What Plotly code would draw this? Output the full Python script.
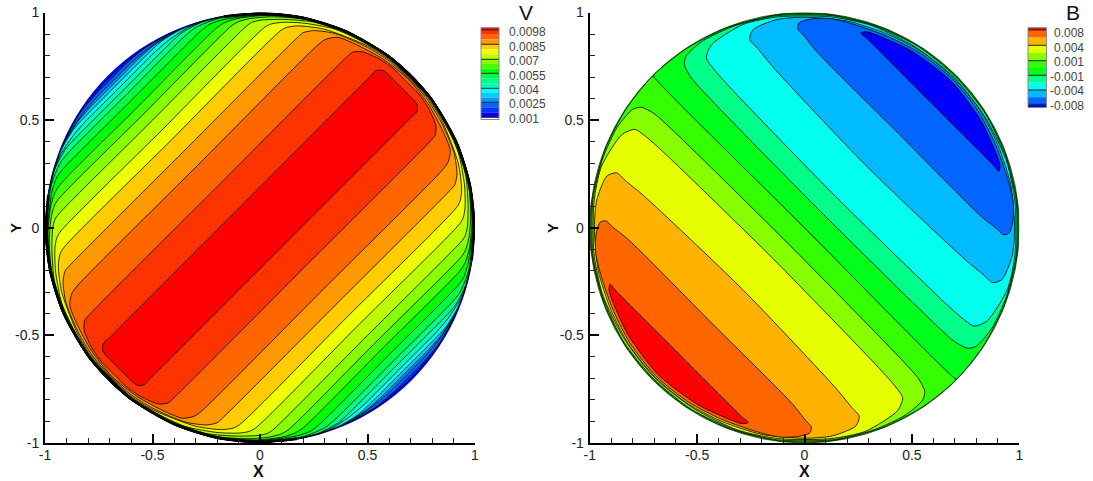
import plotly.graph_objects as go

W, H = 1093, 481

TICK_VALS = [-1, -0.5, 0, 0.5, 1]
TICK_TEXT = ["-1", "-0.5", "0", "0.5", "1"]
MINOR_VALS = [-0.9, -0.8, -0.7, -0.6, -0.4, -0.3, -0.2, -0.1, 0.1, 0.2, 0.3, 0.4, 0.6, 0.7, 0.8, 0.9]

# V panel: one quarter of every contour, from the
# anti-diagonal crossing to the diagonal crossing (outermost contour first).
V_Q18 = [(-.70, .70), (-.655, .742), (-.555, .825), (-.44, .892), (-.26, .962), (0, .999), (.2, .979), (.4, .916), (.6, .8), (.707, .707)]
V_Q17 = [(-.6925, .6925), (-.63, .755), (-.535, .835), (-.42, .90), (-.24, .965), (0, .998), (.2, .979), (.4, .916), (.6, .8), (.707, .707)]
V_Q16 = [(-.6825, .6825), (-.60, .765), (-.51, .84), (-.40, .908), (-.22, .97), (0, .998), (.2, .978), (.4, .915), (.6, .799), (.706, .706)]
V_Q15 = [(-.675, .675), (-.565, .785), (-.49, .85), (-.385, .915), (-.21, .973), (0, .997), (.2, .978), (.4, .915), (.6, .798), (.705, .705)]
V_Q14 = [(-.665, .665), (-.53, .80), (-.46, .865), (-.36, .925), (-.19, .978), (0, .996), (.2, .977), (.4, .914), (.6, .798), (.705, .705)]
V_Q13 = [(-.6525, .6525), (-.485, .82), (-.42, .875), (-.325, .935), (-.155, .985), (0, .995), (.2, .977), (.4, .914), (.6, .797), (.704, .704)]
V_Q12 = [(-.6375, .6375), (-.415, .86), (-.365, .905), (-.27, .955), (-.12, .987), (.02, .993), (.2, .976), (.4, .913), (.6, .797), (.704, .704)]
V_Q11 = [(-.62, .62), (-.35, .89), (-.3, .93), (-.2, .97), (-.08, .986), (.04, .991), (.2, .975), (.4, .913), (.6, .796), (.703, .703)]
V_Q10 = [(-.595, .595), (-.28, .91), (-.235, .945), (-.17, .967), (-.05, .984), (.06, .989), (.2, .974), (.4, .912), (.6, .796), (.703, .703)]
V_Q09 = [(-.565, .565), (-.2, .93), (-.16, .955), (-.1, .973), (0, .985), (.08, .986), (.2, .973), (.4, .911), (.6, .795), (.702, .702)]
V_Q08 = [(-.535, .535), (-.13, .94), (-.1, .957), (-.05, .971), (.05, .98), (.2, .97), (.4, .91), (.6, .794), (.701, .701)]
V_Q07 = [(-.5, .5), (-.065, .935), (-.04, .953), (0, .964), (.1, .968), (.25, .956), (.4, .908), (.55, .828), (.700, .700)]
V_Q06 = [(-.455, .455), (.02, .93), (.05, .946), (.1, .954), (.2, .951), (.35, .922), (.5, .852), (.6, .787), (.698, .698)]
V_Q05 = [(-.41, .41), (.095, .915), (.125, .931), (.18, .938), (.3, .922), (.5, .845), (.6, .782), (.696, .696)]
V_Q04 = [(-.355, .355), (.17, .88), (.2, .906), (.25, .916), (.35, .902), (.5, .838), (.6, .775), (.693, .693)]
V_Q03 = [(-.29, .29), (.27, .85), (.305, .875), (.36, .885), (.45, .85), (.57, .785), (.69, .69)]
V_Q02 = [(-.195, .195), (.40, .79), (.43, .815), (.475, .818), (.558, .782), (.625, .735), (.68, .68)]
V_Q01 = [(-.095, .095), (.51, .70), (.54, .73), (.574, .73), (.643, .666), (.655, .655)]
V_QUARTERS = [V_Q18, V_Q17, V_Q16, V_Q15, V_Q14, V_Q13, V_Q12, V_Q11, V_Q10, V_Q09,
              V_Q08, V_Q07, V_Q06, V_Q05, V_Q04, V_Q03, V_Q02, V_Q01]
V_BASE = "#0000FF"
V_COLORS = ["#0033FF", "#0066FF", "#0099FF", "#00CCFF", "#00FFEE", "#00FFBB", "#00FF88", "#00FF44",
            "#00FF00", "#44FF00", "#88FF00", "#BBFF00", "#EEFF00", "#FFCC00", "#FF9900", "#FF6600",
            "#FF3300", "#FF0000"]

# Contours of the V panel that merge into one dark rim along the upper right
# and (mirrored through the centre) the lower left.
V_RIM_X = [-.17, -.08, 0, .2, .4, .6, .7, .794, .909, .973, .993, .985]
V_RIM_Y = [.981, .989, .993, .973, .909, .794, .7, .6, .4, .2, 0, -.15]

# B panel: half of each contour of the lower-left lobe, from the diagonal
# crossing round the corner and along the rim to the diagonal at the rim.
B_H0 = [(0, 0), (-.70, .70), (-.708, .702), (-.83, .553), (-.93, .36), (-.99, .12), (-.99, -.12), (-.93, -.36), (-.83, -.553), (-.705, -.705)]
B_H1 = [(-.075, -.075), (-.60, .44), (-.70, .53), (-.76, .56), (-.80, .55), (-.87, .47), (-.94, .32), (-.985, .13), (-.985, -.13), (-.94, -.32), (-.845, -.525), (-.702, -.702)]
B_H2 = [(-.145, -.145), (-.65, .345), (-.74, .425), (-.79, .457), (-.85, .433), (-.945, .285), (-.98, .12), (-.98, -.12), (-.94, -.31), (-.84, -.515), (-.697, -.697)]
B_H3 = [(-.2875, -.2875), (-.75, .15), (-.835, .22), (-.875, .255), (-.92, .24), (-.967, .13), (-.978, 0), (-.96, -.2), (-.90, -.385), (-.82, -.54), (-.695, -.695)]
B_H4 = [(-.4375, -.4375), (-.82, -.055), (-.895, .005), (-.925, .032), (-.952, .025), (-.97, -.03), (-.972, -.12), (-.945, -.23), (-.89, -.385), (-.81, -.54), (-.69, -.69)]
B_H5 = [(-.585, -.585), (-.88, -.29), (-.905, -.262), (-.91, -.29), (-.89, -.35), (-.82, -.50), (-.682, -.682)]
B_HALVES = [B_H0, B_H1, B_H2, B_H3, B_H4, B_H5]
B_POS_COLORS = ["#33FF00", "#88FF00", "#E6FF00", "#FFB300", "#FF6600", "#FF0000"]
B_NEG_COLORS = ["#00FF1A", "#00FF88", "#00FFEE", "#00BBFF", "#0066FF", "#0000FF"]

V_LABELS = ["0.0098", "0.0085", "0.007", "0.0055", "0.004", "0.0025", "0.001"]
B_LABELS = ["0.008", "0.004", "0.001", "-0.001", "-0.004", "-0.008"]
V_BAR_COLORS = ["#FF0000", "#FF3300", "#FF6600", "#FF9900", "#FFCC00", "#EEFF00", "#BBFF00",
                "#88FF00", "#44FF00", "#00FF00", "#00FF44", "#00FF88", "#00FFBB", "#00FFEE",
                "#00CCFF", "#0099FF", "#0066FF", "#0033FF", "#0000FF"]
B_BAR_COLORS = ["#FF0000", "#FF6600", "#FFB300", "#E6FF00", "#88FF00", "#33FF00", "#00FF1A",
                "#00FF88", "#00FFEE", "#00BBFF", "#0066FF", "#0000FF"]


def loop_v(q):
    a = list(q)
    b = [(y, x) for x, y in reversed(q)][1:]
    c = [(-x, -y) for x, y in q][1:]
    d = [(-y, -x) for x, y in reversed(q)][1:]
    return a + b + c + d


def loop_b(h, sign=1):
    a = list(h)
    b = [(y, x) for x, y in reversed(h)][1:]
    pts = a + b
    return [(sign * x, sign * y) for x, y in pts]


def band(pts, color, xa, ya, width=0.8):
    return go.Scatter(x=[p[0] for p in pts], y=[p[1] for p in pts], mode="lines", fill="toself",
                      fillcolor=color, line=dict(color="#000000", width=width, shape="spline", smoothing=0.7),
                      hoverinfo="skip", showlegend=False, xaxis=xa, yaxis=ya)


fig = go.Figure()
for q, col in zip(V_QUARTERS, V_COLORS):
    fig.add_trace(band(loop_v(q), col, "x", "y", 0.8))
for sign in (1, -1):
    fig.add_trace(go.Scatter(x=[sign * v for v in V_RIM_X], y=[sign * v for v in V_RIM_Y], mode="lines",
                             line=dict(color="rgba(0,0,0,0.85)", width=2.6, shape="spline", smoothing=0.7),
                             hoverinfo="skip", showlegend=False, xaxis="x", yaxis="y"))
for h, col in zip(B_HALVES, B_POS_COLORS):
    fig.add_trace(band(loop_b(h, 1), col, "x2", "y2"))
for h, col in zip(B_HALVES, B_NEG_COLORS):
    fig.add_trace(band(loop_b(h, -1), col, "x2", "y2"))


def px(x):
    return x / W


def py(y):
    return 1 - y / H


axis = dict(range=[-1, 1], showgrid=False, zeroline=False, showline=True, linecolor="black", linewidth=2,
            ticks="inside", ticklen=9, tickwidth=2, tickcolor="black", tickvals=TICK_VALS, ticktext=TICK_TEXT,
            tickfont=dict(family="Liberation Sans", size=14, color="#222222"),
            minor=dict(tickvals=MINOR_VALS, ticks="inside", ticklen=5, tickwidth=1, tickcolor="#222222"))
y_dom = [py(443), py(12.5)]
fig.update_layout(
    width=W, height=H, margin=dict(l=0, r=0, t=0, b=0, autoexpand=False), paper_bgcolor="white", plot_bgcolor="white",
    xaxis=dict(axis, domain=[px(45), px(475)], anchor="y", ticklabelstandoff=-2),
    yaxis=dict(axis, domain=y_dom, anchor="x", ticklabelstandoff=1),
    xaxis2=dict(axis, domain=[px(589.7), px(1019.3)], anchor="y2", ticklabelstandoff=-2),
    yaxis2=dict(axis, domain=y_dom, anchor="x2", ticklabelstandoff=1),
    showlegend=False,
)

shapes = [
    dict(type="circle", xref="x", yref="y", x0=-1, y0=-1, x1=1, y1=1, fillcolor=V_BASE, line=dict(width=0), layer="below"),
    dict(type="circle", xref="x2", yref="y2", x0=-1, y0=-1, x1=1, y1=1, fillcolor=B_POS_COLORS[0], line=dict(width=0.8, color="#333333"), layer="below"),
]
annotations = []


def add_bar(x0, x1, top, bottom, lines, colors_per, colors):
    edges = [top]
    for i in range(len(lines) - 1):
        for k in range(colors_per):
            edges.append(lines[i] + (lines[i + 1] - lines[i]) * k / colors_per)
    edges += [lines[-1], bottom]
    for i, col in enumerate(colors):
        shapes.append(dict(type="rect", xref="paper", yref="paper", x0=px(x0), x1=px(x1), y0=py(edges[i + 1]), y1=py(edges[i]),
                           fillcolor=col, line=dict(width=0)))
    for l in lines:
        shapes.append(dict(type="line", xref="paper", yref="paper", x0=px(x0), x1=px(x1), y0=py(l), y1=py(l),
                           line=dict(color="#222222", width=1)))
    shapes.append(dict(type="rect", xref="paper", yref="paper", x0=px(x0), x1=px(x1), y0=py(bottom), y1=py(top),
                       line=dict(color="#888888", width=1)))


add_bar(481, 499, 27.7, 119.5, [30, 44.3, 59.3, 73.3, 88.3, 102.3, 117.3], 3, V_BAR_COLORS)
add_bar(1028, 1046.5, 27.7, 107.5, [30, 45.3, 60.7, 75.3, 90, 104.3], 2, B_BAR_COLORS)


def text(x, y, s, size, color="#111111", anchor="center", angle=0, family="Liberation Sans"):
    annotations.append(dict(xref="paper", yref="paper", x=px(x), y=py(y), text=s, showarrow=False, xanchor=anchor,
                            yanchor="middle", textangle=angle, borderpad=0, font=dict(family=family, size=size, color=color)))


for lab, y in zip(V_LABELS, [32.3, 47, 61, 75.5, 90, 104.5, 119]):
    text(508, y, lab, 12, "#444444", "left")
for lab, y in zip(B_LABELS, [33, 47.7, 62, 76.7, 91, 106]):
    text(1085, y, lab, 12, "#444444", "right")
text(526, 12, "V", 21)
text(1073, 12, "B", 21)
text(258, 471, "<b>X</b>", 16)
text(804, 471, "<b>X</b>", 16)
text(15, 228, "<b>Y</b>", 15, angle=-90)
text(552, 228, "<b>Y</b>", 15, angle=-90)

fig.update_layout(shapes=shapes, annotations=annotations)
fig.write_html("out.html", config={"displayModeBar": False},
               post_script="document.body.style.margin='0';document.body.style.overflow='hidden';")
